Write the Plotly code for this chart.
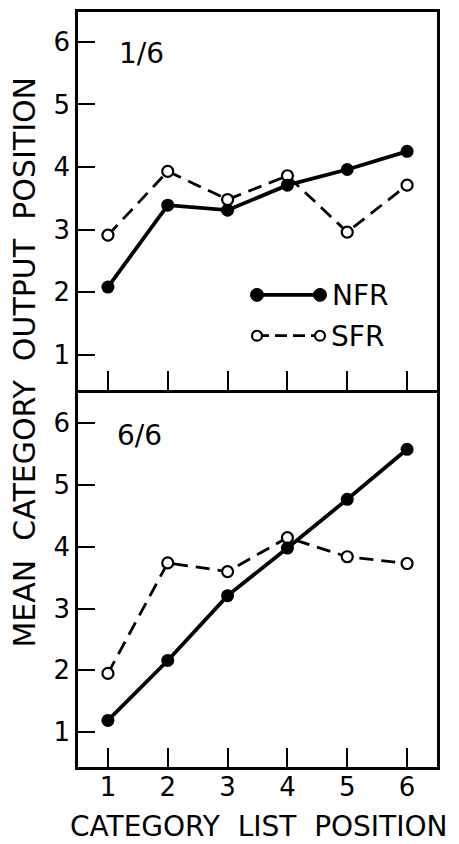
import plotly.graph_objects as go
from plotly.subplots import make_subplots

# ---- data ----
positions = [1, 2, 3, 4, 5, 6]
tick_labels = ["1", "2", "3", "4", "5", "6"]
y_ticks = [1, 2, 3, 4, 5, 6]
nfr_1of6 = [2.08, 3.39, 3.31, 3.71, 3.96, 4.25]
sfr_1of6 = [2.91, 3.93, 3.48, 3.86, 2.96, 3.71]
nfr_6of6 = [1.19, 2.16, 3.21, 3.98, 4.77, 5.58]
sfr_6of6 = [1.95, 3.74, 3.60, 4.15, 3.84, 3.73]
panel_labels = ["1/6", "6/6"]
series_names = ["NFR", "SFR"]

W, H = 459, 844
ML, MR, MT, MB = 78, 22, 9, 77
PW, PH = W - ML - MR, H - MT - MB
FONT = "DejaVu Sans"


def px(xpix):
    return (xpix - ML) / PW


def py(ypix):
    return (H - MB - ypix) / PH


fig = make_subplots(rows=2, cols=1, vertical_spacing=0)

panels = [(nfr_1of6, sfr_1of6), (nfr_6of6, sfr_6of6)]
for i, (nfr, sfr) in enumerate(panels, start=1):
    fig.add_trace(go.Scatter(
        x=positions, y=sfr, mode="lines+markers", name=series_names[1],
        line=dict(color="black", width=2.8, dash="14px,8px"),
        marker=dict(symbol="circle", size=11, color="white",
                    line=dict(color="black", width=2.2)),
        showlegend=False), row=i, col=1)
    fig.add_trace(go.Scatter(
        x=positions, y=nfr, mode="lines+markers", name=series_names[0],
        line=dict(color="black", width=3.8),
        marker=dict(symbol="circle", size=13, color="black"),
        showlegend=False), row=i, col=1)

axis_common = dict(showline=True, linecolor="black", linewidth=2.5,
                   showgrid=False, zeroline=False, ticks="inside",
                   tickcolor="black", tickwidth=2)
fig.update_xaxes(range=[0.5, 6.5], tickvals=positions, ticktext=tick_labels,
                 ticklen=19, ticklabelstandoff=-5,
                 tickfont=dict(family=FONT, size=26, color="black"),
                 **axis_common)
fig.update_xaxes(showticklabels=False, mirror=True, row=1, col=1)
fig.update_xaxes(mirror=False, row=2, col=1)
fig.update_yaxes(tickvals=y_ticks, ticklen=17, ticklabelstandoff=0, mirror=True,
                 tickfont=dict(family=FONT, size=26, color="black"),
                 **axis_common)
fig.update_yaxes(range=[0.443, 6.478], row=1, col=1)
fig.update_yaxes(range=[0.435, 6.548], row=2, col=1)

annotations = [
    dict(text="MEAN  CATEGORY  OUTPUT  POSITION", textangle=-90,
         x=px(25), y=py(361), xref="paper", yref="paper",
         xanchor="center", yanchor="middle",
         showarrow=False, font=dict(family=FONT, size=30, color="black")),
    dict(text="CATEGORY  LIST  POSITION",
         x=px(258), y=py(827), xref="paper", yref="paper",
         xanchor="center", yanchor="middle",
         showarrow=False, font=dict(family=FONT, size=28, color="black")),
    dict(text=panel_labels[0], x=px(166), y=py(51), xref="paper", yref="paper",
         xanchor="right", yanchor="middle", showarrow=False,
         font=dict(family=FONT, size=28, color="black")),
    dict(text=panel_labels[1], x=px(164), y=py(434), xref="paper", yref="paper",
         xanchor="right", yanchor="middle", showarrow=False,
         font=dict(family=FONT, size=28, color="black")),
    dict(text=series_names[0], x=px(330), y=py(294), xref="paper", yref="paper",
         xanchor="left", yanchor="middle", showarrow=False,
         font=dict(family=FONT, size=28, color="black")),
    dict(text=series_names[1], x=px(329), y=py(335), xref="paper", yref="paper",
         xanchor="left", yanchor="middle", showarrow=False,
         font=dict(family=FONT, size=28, color="black")),
]

shapes = []
# legend key: NFR
shapes.append(dict(type="line", xref="paper", yref="paper",
                   x0=px(257), x1=px(320), y0=py(293), y1=py(293),
                   line=dict(color="black", width=3.8)))
for cx in (257, 320):
    r = 6.5
    shapes.append(dict(type="circle", xref="paper", yref="paper",
                       x0=px(cx - r), x1=px(cx + r), y0=py(293 + r), y1=py(293 - r),
                       fillcolor="black", line=dict(color="black", width=1)))
# legend key: SFR
shapes.append(dict(type="line", xref="paper", yref="paper",
                   x0=px(257), x1=px(320), y0=py(334), y1=py(334),
                   line=dict(color="black", width=2.8, dash="12px,6px")))
for cx in (257, 320):
    r = 5
    shapes.append(dict(type="circle", xref="paper", yref="paper",
                       x0=px(cx - r), x1=px(cx + r), y0=py(334 + r), y1=py(334 - r),
                       fillcolor="white", line=dict(color="black", width=2.2)))

fig.update_layout(width=W, height=H, margin=dict(l=ML, r=MR, t=MT, b=MB),
                  paper_bgcolor="white", plot_bgcolor="white",
                  font=dict(family=FONT, color="black"),
                  annotations=annotations, shapes=shapes, showlegend=False)

fig.write_html("out.html")
